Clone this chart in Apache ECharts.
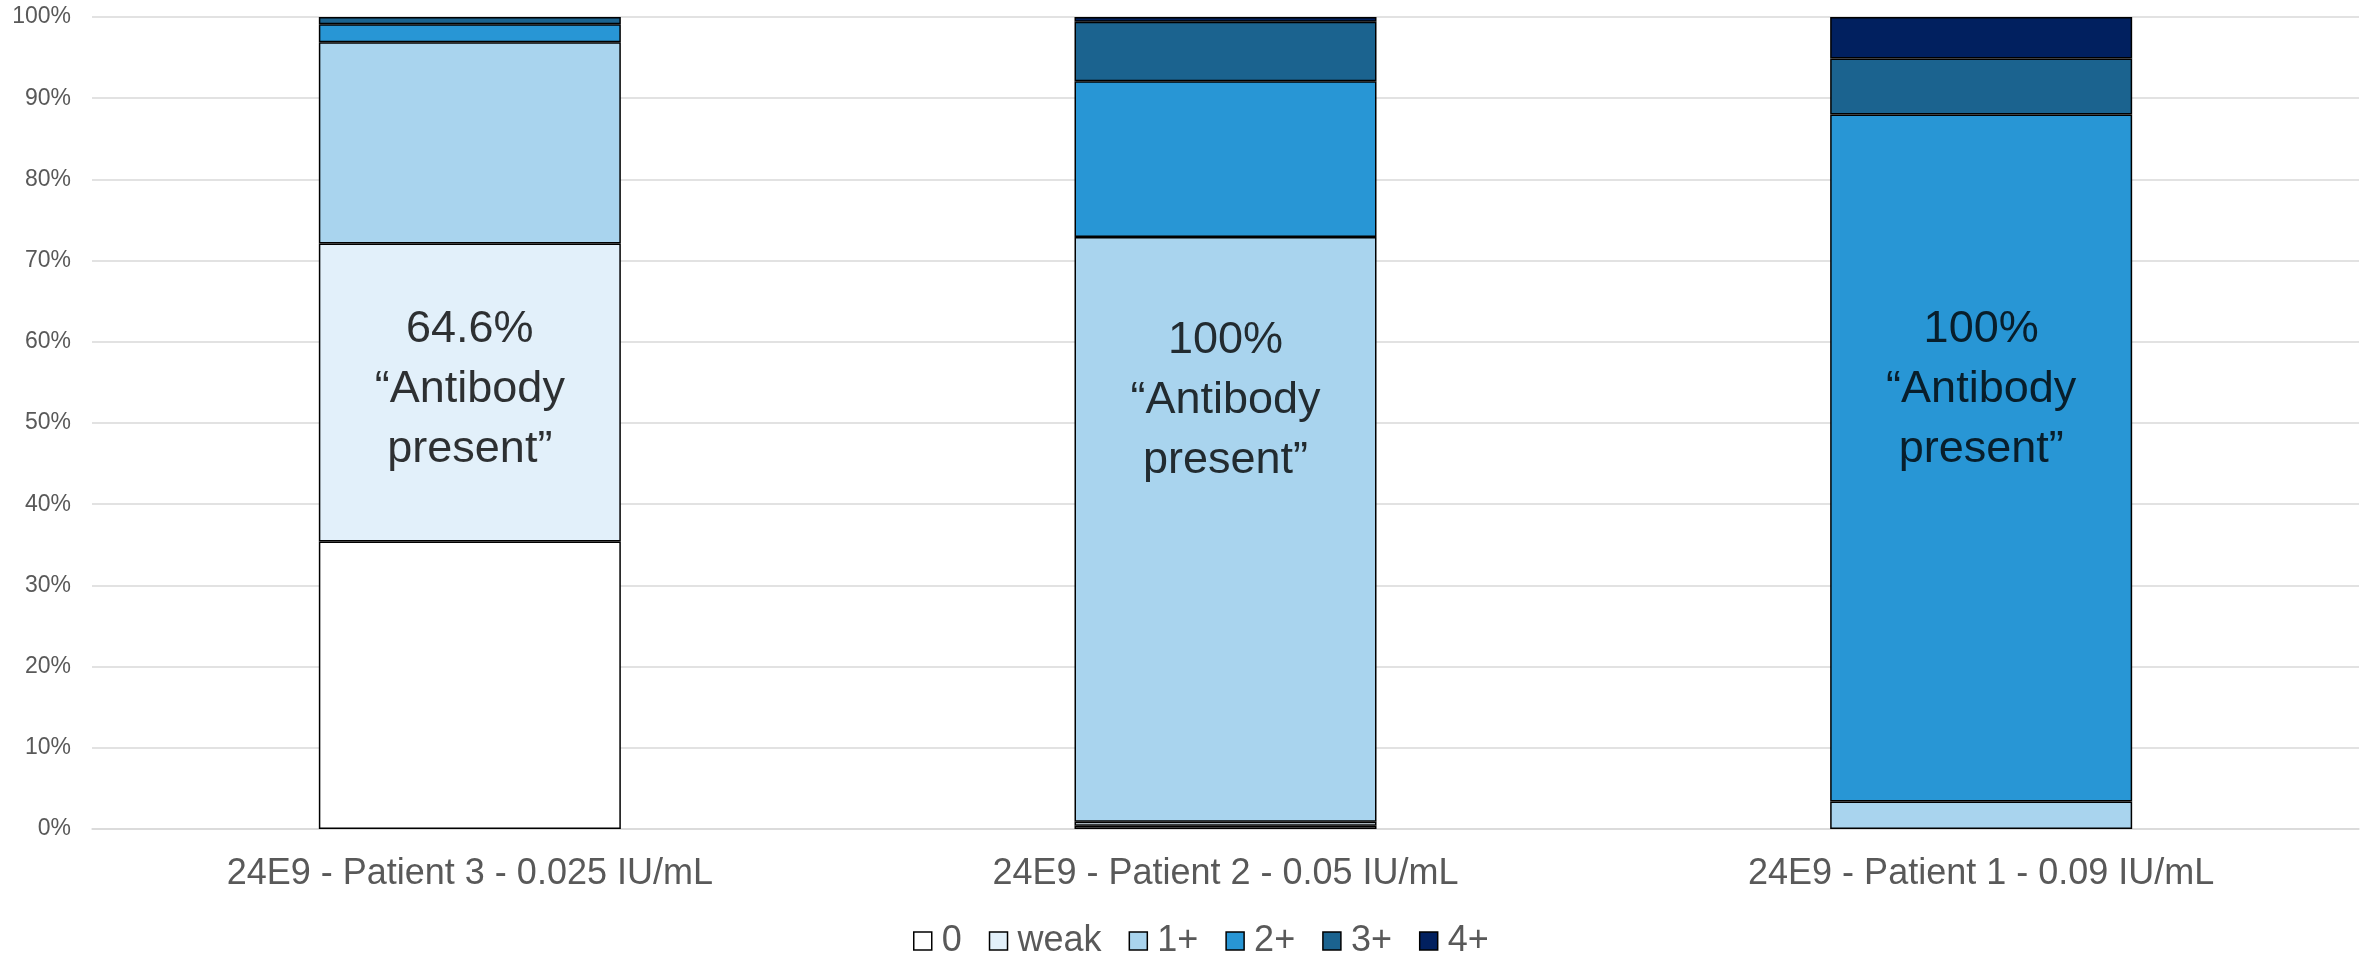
<!DOCTYPE html>
<html>
<head>
<meta charset="utf-8">
<script src="https://cdn.jsdelivr.net/npm/echarts@6/dist/echarts.min.js"></script>
<style>
html,body{margin:0;padding:0;background:#fff;}
#chart{width:2369px;height:956px;}
</style>
</head>
<body>
<div id="chart"></div>
<script>
var categories = ['24E9 - Patient 3 - 0.025 IU/mL', '24E9 - Patient 2 - 0.05 IU/mL', '24E9 - Patient 1 - 0.09 IU/mL'];
var seriesNames = ['0', 'weak', '1+', '2+', '3+', '4+'];
var values0    = [35.4, 0.4, 0];
var valuesWeak = [36.7, 0.5, 0];
var values1    = [24.8, 72.0, 3.4];
var values2    = [2.2, 19.2, 84.6];
var values3    = [0.9, 7.3, 6.9];
var values4    = [0, 0.6, 5.1];
var yTicks = [0, 10, 20, 30, 40, 50, 60, 70, 80, 90, 100];
var annotationTexts = ['64.6%\n\u201cAntibody\npresent\u201d', '100%\n\u201cAntibody\npresent\u201d', '100%\n\u201cAntibody\npresent\u201d'];
var annotationY = [54.1, 52.8, 54.1];

var colors = ['#FFFFFF', '#E2F0FA', '#A9D4EE', '#2896D5', '#1B638F', '#01205F'];
var allValues = [values0, valuesWeak, values1, values2, values3, values4];
var FONT = 'Liberation Sans, Arial, sans-serif';

var chart = echarts.init(document.getElementById('chart'));
var series = seriesNames.map(function (name, i) {
  return {
    name: name,
    type: 'bar',
    stack: 'total',
    barWidth: 302,
    data: allValues[i].map(function (v) { return v === 0 ? null : v; }),
    itemStyle: { color: colors[i], borderColor: '#000', borderWidth: 1.5 },
    emphasis: { disabled: true }
  };
});
series.push({
  type: 'scatter',
  symbolSize: 0,
  z: 10,
  silent: true,
  data: categories.map(function (c, i) { return [c, annotationY[i]]; }),
  label: {
    show: true,
    position: 'inside',
    color: '#000',
    fontFamily: FONT,
    fontSize: 45,
    lineHeight: 60,
    align: 'center',
    verticalAlign: 'middle',
    formatter: function (p) { return annotationTexts[p.dataIndex]; }
  }
});

chart.setOption({
  animation: false,
  backgroundColor: '#fff',
  grid: { left: 92, right: 10, top: 17, bottom: 127, containLabel: false },
  legend: {
    data: seriesNames,
    left: 908,
    top: 918,
    icon: 'rect',
    itemWidth: 18,
    itemHeight: 18,
    itemGap: 27,
    itemStyle: { borderColor: '#000', borderWidth: 1.5 },
    textStyle: { color: '#595959', fontSize: 36, fontFamily: FONT, padding: [0, 0, 0, 5] }
  },
  xAxis: {
    type: 'category',
    data: categories,
    axisLine: { lineStyle: { color: '#D9D9D9', width: 1.5 } },
    axisTick: { show: false },
    axisLabel: { color: '#595959', fontSize: 36, fontFamily: FONT, margin: 27 }
  },
  yAxis: {
    type: 'value',
    min: yTicks[0],
    max: yTicks[yTicks.length - 1],
    interval: yTicks[1] - yTicks[0],
    axisLine: { show: false },
    axisTick: { show: false },
    splitLine: { lineStyle: { color: '#D9D9D9', width: 1.5 } },
    axisLabel: { color: '#595959', fontSize: 23, fontFamily: FONT, margin: 21, formatter: '{value}%' }
  },
  series: series
});
</script>
</body>
</html>
